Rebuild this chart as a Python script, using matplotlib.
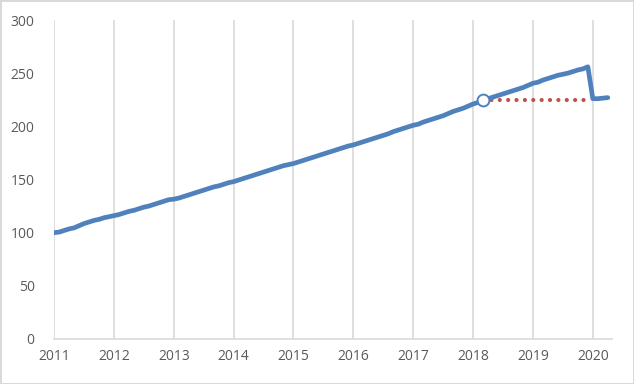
import numpy as np
import matplotlib.pyplot as plt

# monthly index values, Jan 2011 .. Apr 2020
v2011 = [100, 100.5, 102, 103.5, 104.5, 106.5, 108.5, 110, 111.5, 112.5, 114, 115]
v2012 = [116, 117, 118.5, 120, 121, 122.5, 124, 125, 126.5, 128, 129.5, 131]
v2013 = [131.5, 132.5, 134, 135.5, 137, 138.5, 140, 141.5, 143, 144, 145.5, 147]
v2014 = [148, 149.5, 151, 152.5, 154, 155.5, 157, 158.5, 160, 161.5, 163, 164]
v2015 = [165, 166.5, 168, 169.5, 171, 172.5, 174, 175.5, 177, 178.5, 180, 181.5]
v2016 = [182.5, 184, 185.5, 187, 188.5, 190, 191.5, 193, 195, 196.5, 198, 199.5]
v2017 = [201, 202, 204, 205.5, 207, 208.5, 210, 212, 214, 215.5, 217, 219]
v2018 = [221, 222.5, 225, 226, 227.5, 229, 230.5, 232, 233.5, 235, 236.5, 238.5]
v2019 = [240.5, 241.5, 243.5, 245, 246.5, 248, 249, 250, 251.5, 253, 254, 256]
v2020 = [226, 226, 226.5, 227]

values = v2011 + v2012 + v2013 + v2014 + v2015 + v2016 + v2017 + v2018 + v2019 + v2020
start_year = 2011
dates = start_year + np.arange(len(values)) / 12.0

# flat projection from March 2018 at the March 2018 level
proj_start = 86   # index of Mar 2018
proj_end = 107    # index of Dec 2019
proj_level = values[proj_start]

years = list(range(2011, 2021))

blue = '#4F81BD'
red = '#C0504D'
grid = '#D9D9D9'
txt = '#595959'

plt.rcParams['font.family'] = ['Open Sans', 'DejaVu Sans']

fig = plt.figure(figsize=(6.34, 3.84), dpi=100)
fig.patch.set_edgecolor(grid)
fig.patch.set_linewidth(2)
ax = fig.add_axes([0.0852, 0.1172, 0.8801, 0.8307])

ax.plot(dates[proj_start:proj_end + 1], [proj_level] * (proj_end - proj_start + 1),
        color=red, lw=3.0, linestyle=(0, (0.01, 2.0)), dash_capstyle='round', zorder=2)
ax.plot(dates, values, color=blue, lw=3.4, solid_joinstyle='round', solid_capstyle='round', zorder=3)
ax.plot(dates[proj_start], values[proj_start], 'o', ms=8.5, mfc='white', mec=blue, mew=1.4, zorder=4)

ax.set_xlim(2011, 2020.32)
ax.set_ylim(0, 300)
ax.set_xticks(years)
ax.set_xticklabels([str(y) for y in years])
ax.set_yticks(range(0, 301, 50))

ax.grid(axis='x', color=grid, lw=1.2)
ax.set_axisbelow(True)
for s in ['top', 'right', 'left']:
    ax.spines[s].set_visible(False)
ax.spines['bottom'].set_color(grid)
ax.spines['bottom'].set_linewidth(1.2)
ax.tick_params(axis='both', length=0, labelsize=10, colors=txt)
ax.tick_params(axis='x', pad=7)
ax.tick_params(axis='y', pad=14)

fig.savefig('out.png', dpi=100)
